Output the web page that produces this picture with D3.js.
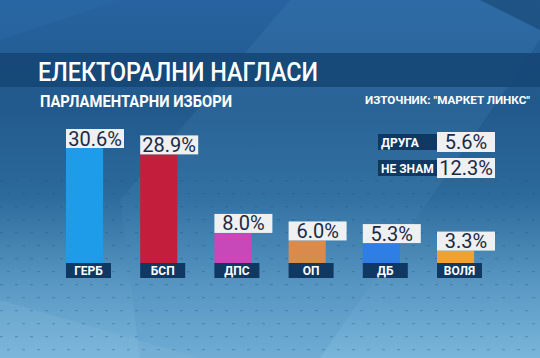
<!DOCTYPE html>
<html><head><meta charset="utf-8">
<script src="https://cdn.jsdelivr.net/npm/d3@7"></script>
<style>html,body{margin:0;padding:0;overflow:hidden;background:#2a66a0}</style>
</head><body>
<script>
const categories = ["ГЕРБ", "БСП", "ДПС", "ОП", "ДБ", "ВОЛЯ"];
const values = [30.6, 28.9, 8.0, 6.0, 5.3, 3.3];
const barColors = ["#1e9cea", "#c31f3c", "#c948b9", "#d98b4e", "#2f7ee6", "#eea233"];
const otherLabels = ["ДРУГА", "НЕ ЗНАМ"];
const otherValues = [5.6, 12.3];
const title = "ЕЛЕКТОРАЛНИ НАГЛАСИ";
const subtitle = "ПАРЛАМЕНТАРНИ ИЗБОРИ";
const source = "ИЗТОЧНИК: \"МАРКЕТ ЛИНКС\"";

const W = 540, H = 358;
const svg = d3.select("body").append("svg").attr("width", W).attr("height", H);
const defs = svg.append("defs");
const g1 = defs.append("linearGradient").attr("id","bg").attr("x1",0).attr("y1",0).attr("x2",0).attr("y2",1);
[[0,"#2763a0"],[0.3,"#22598c"],[0.55,"#2c6b9b"],[0.8,"#5a99c4"],[1,"#7ab5da"]].forEach(d=>g1.append("stop").attr("offset",d[0]).attr("stop-color",d[1]));
svg.append("rect").attr("width",W).attr("height",H).attr("fill","url(#bg)");
// decorative diagonal shapes
svg.append("path").attr("d","M0,40 L0,0 L120,0 Z").attr("fill","#2a6aa6").attr("opacity",0.5);
svg.append("path").attr("d","M120,200 L290,0 L540,0 L540,40 L320,358 L140,358 Z").attr("fill","#4a8cc0").attr("opacity",0.2);
svg.append("path").attr("d","M480,0 L540,0 L540,30 Z").attr("fill","#1a4a78").attr("opacity",0.7);
svg.append("path").attr("d","M0,300 L200,358 L0,358 Z").attr("fill","#8cc0e0").attr("opacity",0.2);

// dots texture in lower part
const dots = svg.append("g").attr("opacity",0.3);
for (let r = 0; r < 14; r++) {
  for (let c = 0; c < 40; c++) {
    const y = 180 + r * 13;
    const x = c * 15 + (r % 2) * 7;
    dots.append("rect").attr("x",x).attr("y",y).attr("width",3).attr("height",1.2).attr("fill","#1d4f7c");
  }
}

// title band
svg.append("rect").attr("x",0).attr("y",53).attr("width",W).attr("height",34).attr("fill","#164676").attr("opacity",0.92);
svg.append("text").attr("x",38).attr("y",81).text(title)
  .attr("font-family","Roboto, 'Open Sans', sans-serif").attr("font-weight",500)
  .attr("font-size",25).attr("fill","#ffffff").attr("textLength",280).attr("lengthAdjust","spacingAndGlyphs");
svg.append("text").attr("x",40).attr("y",107).text(subtitle)
  .attr("font-family","Roboto, 'Open Sans', sans-serif").attr("font-weight",700)
  .attr("font-size",17).attr("fill","#ffffff").attr("textLength",192).attr("lengthAdjust","spacingAndGlyphs");
svg.append("text").attr("x",365).attr("y",104).text(source)
  .attr("font-family","Roboto, 'Open Sans', sans-serif").attr("font-weight",700)
  .attr("font-size",11.5).attr("fill","#ffffff").attr("textLength",165).attr("lengthAdjust","spacingAndGlyphs");

// scales
const x = d3.scaleBand().domain(categories).range([66, 474.1]).paddingInner(0.5).paddingOuter(0);
const y = d3.scaleLinear().domain([0, 30.6]).range([263, 148]);

const fmt = v => v.toFixed(1) + "%";
const bars = svg.append("g");
categories.forEach((c, i) => {
  const bx = x(c), bw = x.bandwidth(), v = values[i];
  bars.append("rect").attr("x",bx).attr("y",y(v)).attr("width",bw).attr("height",y(0)-y(v)).attr("fill",barColors[i]);
  // value box
  bars.append("rect").attr("x",bx).attr("y",y(v)-19).attr("width",58).attr("height",19).attr("fill","#eef0f2");
  bars.append("text").attr("x",bx+29).attr("y",y(v)-2.5).attr("text-anchor","middle").text(fmt(v))
    .attr("font-family","Roboto, 'Open Sans', sans-serif").attr("font-weight",400)
    .attr("font-size",20).attr("fill","#1b2a44");
  // label box
  bars.append("rect").attr("x",bx).attr("y",y(0)).attr("width",45).attr("height",15).attr("fill","#0f3862");
  bars.append("text").attr("x",bx+22.5).attr("y",y(0)+12).attr("text-anchor","middle").text(c)
    .attr("font-family","Roboto, 'Open Sans', sans-serif").attr("font-weight",700)
    .attr("font-size",12).attr("fill","#ffffff");
});

// others
const oy = d3.scalePoint().domain(otherLabels).range([142, 168]);
otherLabels.forEach((l, i) => {
  const cy = oy(l);
  svg.append("rect").attr("x",378).attr("y",cy-8).attr("width",59).attr("height",16).attr("fill","#0f3862");
  svg.append("text").attr("x",381).attr("y",cy+4.5).text(l)
    .attr("font-family","Roboto, 'Open Sans', sans-serif").attr("font-weight",700)
    .attr("font-size",12).attr("fill","#ffffff");
  svg.append("rect").attr("x",437).attr("y",cy-10).attr("width",58).attr("height",20).attr("fill","#eef0f2");
  svg.append("text").attr("x",466).attr("y",cy+7).attr("text-anchor","middle").text(fmt(otherValues[i]))
    .attr("font-family","Roboto, 'Open Sans', sans-serif").attr("font-weight",400)
    .attr("font-size",20).attr("fill","#1b2a44");
});
</script>
</body></html>
